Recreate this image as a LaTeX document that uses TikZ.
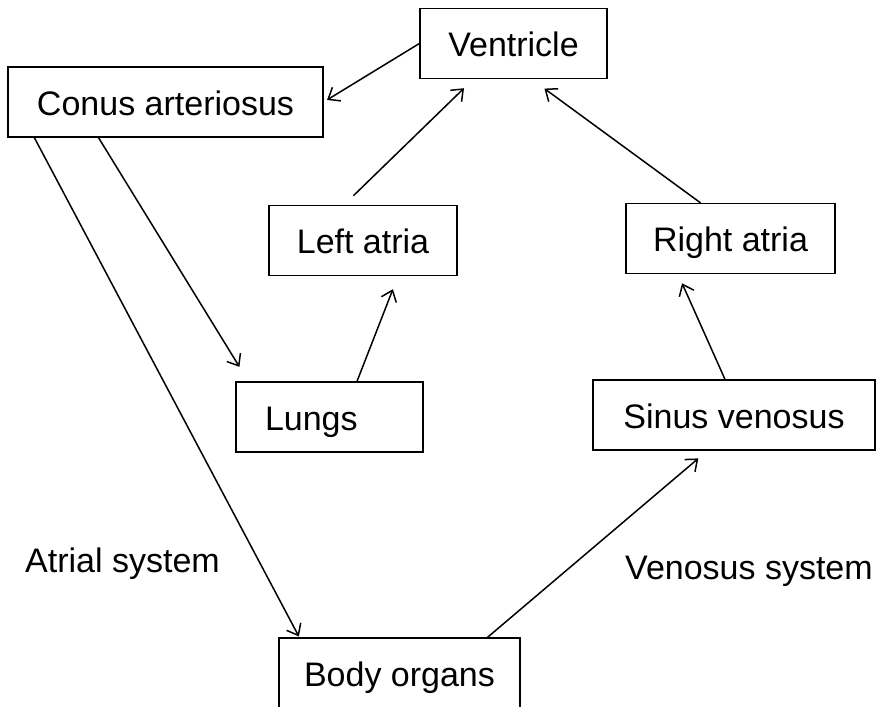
\documentclass[tikz,border=0pt]{standalone}
\usepackage{fontspec}
\setmainfont{Liberation Sans}
\usetikzlibrary{arrows.meta}

\begin{document}
\begin{tikzpicture}[
    x=1pt, y=-1pt,
    organ/.style={draw, rectangle, line width=1.3pt, minimum height=70pt, inner sep=0pt, text height=26pt, text depth=0pt, font=\fontsize{34}{40}\selectfont},
    label/.style={inner sep=0pt, anchor=base west, font=\fontsize{34}{40}\selectfont},
    arrow/.style={-{Straight Barb[length=10pt, width=16pt, line width=1.5pt]}, line width=1.5pt}
]
    \clip (0,0) rectangle (876,707);

    \node[organ, minimum width=187pt] (ventricle) at (513.5,43.5) {Ventricle};
    \node[organ, minimum width=315pt] (conus) at (165.5,102) {Conus arteriosus};
    \node[organ, minimum width=188pt] (lefta) at (363,240.5) {Left atria};
    \node[organ, minimum width=209pt] (righta) at (730.5,238.5) {Right atria};
    \node[organ, text width=129pt, inner xsep=29pt, align=left] (lungs) at (329.5,417) {Lungs};
    \node[organ, minimum width=282pt] (sinus) at (734,415) {Sinus venosus};
    \node[organ, minimum width=241pt] (body) at (399.5,673) {Body organs};

    \node[label] (atrial) at (25,572) {Atrial system};
    \node[label] (venosus) at (625,579) {Venosus system};

    \draw[arrow, shorten >=4pt] (ventricle.west) -- (conus.east);
    \draw[arrow, shorten <=13pt, shorten >=13pt] ([xshift=-19pt]lefta.north) -- ([xshift=54pt]ventricle.south west);
    \draw[arrow, shorten >=16pt] ([xshift=-30pt]righta.north) -- ([xshift=18pt]ventricle.south);
    \draw[arrow, shorten >=17pt] ([xshift=-67pt]conus.south) -- ([xshift=13pt]lungs.north west);
    \draw[arrow, shorten >=1pt] ([xshift=27pt]conus.south west) -- ([xshift=21pt]body.north west);
    \draw[arrow, shorten >=14pt] ([xshift=27.5pt]lungs.north) -- ([xshift=35pt]lefta.south);
    \draw[arrow, shorten >=10pt] ([xshift=-9pt]sinus.north) -- ([xshift=-52.5pt]righta.south);
    \draw[arrow, shorten >=12pt] ([xshift=88pt]body.north) -- ([xshift=-26.5pt]sinus.south);
\end{tikzpicture}
\end{document}
